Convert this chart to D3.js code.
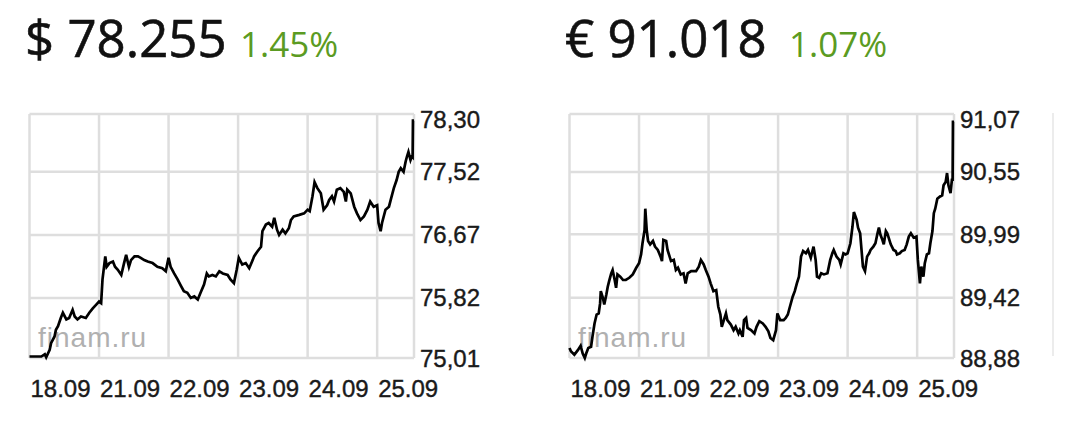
<!DOCTYPE html>
<html><head><meta charset="utf-8">
<script src="https://cdn.jsdelivr.net/npm/d3@7"></script>
<style>html,body{margin:0;padding:0;background:#fff;}svg{display:block;}</style>
</head><body>
<svg id="chart" width="1080" height="428"></svg>
<script>
// ---- data ----
const dayLabels = ["18.09","21.09","22.09","23.09","24.09","25.09"];
const dayIndex = [0,1,2,3,4,5];

const usdTicks = [75.01,75.82,76.67,77.52,78.30];
const eurTicks = [88.88,89.42,89.99,90.55,91.07];

const usdHeader = ["$ 78.255","1.45%"];
const eurHeader = ["€ 91.018","1.07%"];

// time in trading days from 18.09 open
const usdTime = [0,0.17,0.22,0.24,0.29,0.31,0.36,0.38,0.41,0.45,0.48,0.53,0.57,0.62,0.65,0.69,0.74,0.81,0.86,0.91,0.96,1.00,1.03,1.05,1.09,1.11,1.15,1.20,1.23,1.27,1.32,1.36,1.39,1.43,1.46,1.51,1.56,1.60,1.65,1.70,1.77,1.84,1.91,1.96,2.00,2.03,2.08,2.13,2.18,2.22,2.27,2.32,2.37,2.42,2.46,2.51,2.55,2.58,2.63,2.68,2.73,2.78,2.85,2.89,2.94,2.98,3.01,3.06,3.11,3.16,3.21,3.23,3.28,3.33,3.35,3.40,3.44,3.49,3.52,3.56,3.59,3.64,3.68,3.73,3.76,3.80,3.88,3.95,4.00,4.03,4.07,4.10,4.14,4.19,4.21,4.23,4.28,4.31,4.35,4.38,4.42,4.47,4.52,4.55,4.57,4.62,4.67,4.71,4.76,4.81,4.86,4.90,4.95,5.00,5.02,5.05,5.07,5.12,5.17,5.20,5.24,5.28,5.31,5.34,5.38,5.41,5.43,5.45,5.48,5.50,5.51,5.515,5.53];
const usdRate = [75.03,75.03,75.06,75.02,75.12,75.21,75.30,75.39,75.44,75.55,75.62,75.53,75.55,75.66,75.57,75.53,75.57,75.55,75.62,75.68,75.73,75.77,75.75,76.07,76.38,76.24,76.29,76.31,76.24,76.20,76.13,76.29,76.40,76.24,76.33,76.38,76.38,76.36,76.33,76.31,76.29,76.24,76.22,76.18,76.36,76.24,76.15,76.07,75.98,75.91,75.89,75.82,75.84,75.80,75.89,76.00,76.15,76.11,76.13,76.11,76.18,76.15,76.13,76.07,76.02,76.20,76.36,76.27,76.29,76.22,76.33,76.38,76.45,76.51,76.72,76.81,76.83,76.78,76.90,76.74,76.67,76.74,76.69,76.76,76.87,76.92,76.94,76.96,77.01,76.99,77.19,77.38,77.30,77.23,77.12,77.01,77.07,77.14,77.19,77.12,77.28,77.30,77.25,77.12,77.28,77.23,77.05,76.96,76.87,76.92,77.01,77.12,77.05,77.07,76.83,76.72,76.83,77.01,77.05,77.16,77.30,77.41,77.52,77.57,77.52,77.66,77.73,77.79,77.68,77.73,77.72,78.21,78.21];

const eurTime = [0,0.02,0.07,0.12,0.16,0.19,0.22,0.24,0.27,0.31,0.33,0.36,0.39,0.42,0.44,0.45,0.48,0.50,0.53,0.55,0.57,0.60,0.62,0.65,0.67,0.69,0.73,0.77,0.81,0.86,0.91,0.96,1.00,1.03,1.05,1.08,1.09,1.11,1.13,1.16,1.20,1.23,1.27,1.31,1.33,1.35,1.39,1.41,1.44,1.46,1.50,1.53,1.56,1.60,1.64,1.67,1.70,1.75,1.82,1.86,1.89,1.93,1.96,2.00,2.03,2.07,2.11,2.14,2.17,2.19,2.22,2.25,2.27,2.32,2.36,2.39,2.43,2.45,2.49,2.51,2.54,2.56,2.61,2.66,2.69,2.73,2.78,2.82,2.86,2.89,2.93,2.97,2.99,3.03,3.08,3.11,3.14,3.17,3.21,3.24,3.27,3.30,3.33,3.36,3.40,3.43,3.47,3.51,3.54,3.56,3.59,3.62,3.66,3.71,3.75,3.78,3.80,3.84,3.88,3.90,3.94,3.97,4.00,4.04,4.07,4.09,4.13,4.15,4.18,4.20,4.22,4.25,4.28,4.31,4.33,4.37,4.40,4.43,4.45,4.47,4.50,4.52,4.55,4.57,4.59,4.62,4.66,4.69,4.71,4.75,4.78,4.82,4.85,4.88,4.91,4.95,4.99,5.01,5.04,5.06,5.09,5.11,5.14,5.17,5.19,5.22,5.24,5.26,5.29,5.33,5.36,5.38,5.41,5.43,5.45,5.48,5.50,5.51,5.515,5.53];
const eurRate = [88.97,88.94,88.91,88.95,88.99,88.92,88.88,88.92,88.97,88.98,89.07,89.19,89.27,89.28,89.37,89.48,89.42,89.36,89.45,89.52,89.57,89.64,89.67,89.58,89.51,89.63,89.61,89.58,89.58,89.60,89.63,89.69,89.73,89.81,89.91,90.03,90.22,90.03,89.93,89.90,89.93,89.88,89.85,89.79,89.75,89.94,89.93,89.85,89.79,89.75,89.76,89.67,89.69,89.63,89.64,89.55,89.64,89.66,89.66,89.70,89.76,89.72,89.67,89.61,89.55,89.48,89.49,89.34,89.27,89.16,89.22,89.28,89.22,89.18,89.13,89.16,89.10,89.13,89.07,89.22,89.24,89.15,89.13,89.10,89.16,89.21,89.19,89.16,89.12,89.06,89.04,89.13,89.28,89.22,89.22,89.24,89.27,89.34,89.43,89.48,89.55,89.61,89.79,89.84,89.82,89.85,89.78,89.88,89.76,89.61,89.60,89.64,89.63,89.64,89.76,89.82,89.85,89.79,89.76,89.72,89.82,89.81,89.82,89.91,90.06,90.19,90.12,90.05,90.00,89.85,89.70,89.66,89.79,89.82,89.85,89.88,89.91,90.00,90.05,89.99,89.94,89.90,90.02,90.00,89.96,89.90,89.85,89.84,89.81,89.82,89.84,89.85,89.90,89.97,90.00,89.96,89.97,89.76,89.55,89.70,89.61,89.73,89.81,89.82,89.91,90.02,90.18,90.22,90.31,90.33,90.34,90.43,90.46,90.54,90.43,90.36,90.48,90.48,91.00,91.00];

// ---- drawing ----
const svg = d3.select("#chart");
const gridColor = "#dedede";

const panels = [
  {dx:0, ticks:usdTicks, time:usdTime, rate:usdRate, header:usdHeader, hx:[25,240]},
  {dx:540, ticks:eurTicks, time:eurTime, rate:eurRate, header:eurHeader, hx:[565,789]}
];

const plotL = 29.5, plotR = 414, plotT = 114, plotB = 358;

panels.forEach(p => {
  const g = svg.append("g").attr("transform", `translate(${p.dx},0)`);

  // header
  g.append("text").attr("x", p.hx[0]-p.dx).attr("y", 57)
    .attr("font-family", "'Open Sans', 'Noto Sans', sans-serif")
    .attr("font-size", 51).attr("fill", "#111")
    .attr("stroke", "#111").attr("stroke-width", 0.6)
    .text(p.header[0]);
  g.append("text").attr("x", p.hx[1]-p.dx).attr("y", 57)
    .attr("font-family", "'Open Sans', 'Noto Sans', sans-serif")
    .attr("font-size", 35).attr("fill", "#5b9b22").text(p.header[1]);

  const x = d3.scaleLinear().domain([0, 5.53]).range([plotL, plotR]);
  const y = d3.scaleLinear().domain([p.ticks[0], p.ticks[p.ticks.length-1]]).range([plotB, plotT]);

  // grid
  g.append("g").selectAll("line").data(dayIndex).join("line")
    .attr("x1", d => x(d)).attr("x2", d => x(d))
    .attr("y1", plotT).attr("y2", plotB)
    .attr("stroke", gridColor).attr("stroke-width", 2.5);
  g.append("g").selectAll("line").data(p.ticks).join("line")
    .attr("x1", plotL).attr("x2", plotR)
    .attr("y1", d => y(d)).attr("y2", d => y(d))
    .attr("stroke", gridColor).attr("stroke-width", 2.5);
  g.append("line").attr("x1", plotR).attr("x2", plotR).attr("y1", plotT).attr("y2", plotB)
    .attr("stroke", gridColor).attr("stroke-width", 2.5);

  // watermark
  g.append("text").attr("x", 38).attr("y", 347)
    .attr("font-family", "'Liberation Sans', Arial, sans-serif")
    .attr("font-size", 28).attr("letter-spacing", 1)
    .attr("fill", "#b0b0b0").text("finam.ru");

  // x labels
  g.append("g").selectAll("text").data(dayIndex).join("text")
    .attr("x", d => x(d) + 1).attr("y", 397)
    .attr("font-family", "'Liberation Sans', Arial, sans-serif")
    .attr("font-size", 24).attr("fill", "#1a1a1a")
    .attr("stroke", "#1a1a1a").attr("stroke-width", 0.4)
    .text(d => dayLabels[d]);

  // y labels
  g.append("g").selectAll("text").data(p.ticks).join("text")
    .attr("x", 420).attr("y", d => Math.max(y(d), 119) + 8.5)
    .attr("font-family", "'Liberation Sans', Arial, sans-serif")
    .attr("font-size", 24).attr("fill", "#1a1a1a")
    .attr("stroke", "#1a1a1a").attr("stroke-width", 0.4)
    .text(d => d.toFixed(2).replace(".", ","));

  // line
  const pts = p.time.map((t, i) => [t, p.rate[i]]);
  g.append("path").datum(pts)
    .attr("fill", "none").attr("stroke", "#000").attr("stroke-width", 2.7)
    .attr("stroke-linejoin", "miter")
    .attr("d", d3.line().x(d => x(d[0])).y(d => y(d[1])));
});

// faint separator at far right
svg.append("line").attr("x1", 1053).attr("x2", 1053).attr("y1", 113).attr("y2", 356)
  .attr("stroke", "#e6e6e6").attr("stroke-width", 1.5);
</script>
</body></html>
